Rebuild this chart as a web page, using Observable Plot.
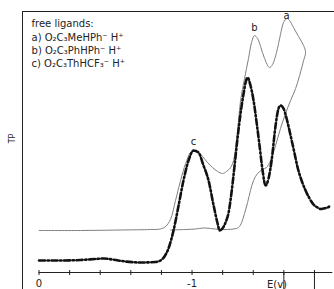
<!DOCTYPE html>
<html>
<head>
<meta charset="utf-8">
<script src="https://cdn.jsdelivr.net/npm/d3@7"></script>
<script src="https://cdn.jsdelivr.net/npm/@observablehq/plot@0.6"></script>
<style>
  html, body { margin: 0; padding: 0; background: #fff; }
</style>
</head>
<body>
<div id="chart"></div>
<script>
// ---- data (E in volts, TP in arbitrary units) ----
const blackE = [0, -0.141, -0.271, -0.369, -0.422, -0.480, -0.565, -0.663, -0.761, -0.794,
  -0.820, -0.846, -0.879, -0.912, -0.944, -0.977, -1.010, -1.042, -1.075, -1.108,
  -1.141, -1.167, -1.180, -1.199, -1.219, -1.239, -1.258, -1.278, -1.297, -1.317,
  -1.337, -1.350, -1.363, -1.382, -1.402, -1.422, -1.441, -1.461, -1.480, -1.500,
  -1.520, -1.546, -1.565, -1.578, -1.598, -1.618, -1.644, -1.670, -1.690, -1.716,
  -1.742, -1.768, -1.794, -1.820, -1.840, -1.859, -1.886, -1.905];
const blackTP = [1.2, 1.2, 1.25, 1.35, 1.4, 1.3, 1.1, 1.0, 1.05, 1.2,
  1.6, 2.4, 4.2, 6.7, 9.2, 11.2, 12.2, 12.0, 10.7, 9.2,
  6.7, 4.9, 4.2, 4.4, 5.0, 6.0, 8.0, 10.7, 13.4, 15.9,
  17.9, 19.0, 19.5, 18.7, 17.2, 15.0, 12.7, 10.2, 8.7, 9.4,
  11.2, 14.7, 16.4, 16.7, 16.4, 15.4, 13.7, 11.9, 10.5, 9.2,
  8.2, 7.4, 6.8, 6.5, 6.35, 6.4, 6.5, 6.7];

const grayE = [0, -0.271, -0.533, -0.729, -0.794, -0.827, -0.859, -0.892, -0.925, -0.958,
  -0.990, -1.010, -1.036, -1.069, -1.101, -1.134, -1.167, -1.199, -1.225, -1.252,
  -1.271, -1.291, -1.304, -1.317, -1.343, -1.369, -1.389, -1.408, -1.428, -1.448,
  -1.474, -1.506, -1.526, -1.552, -1.578, -1.598, -1.618, -1.637, -1.663, -1.696,
  -1.729, -1.742, -1.729, -1.703, -1.677, -1.644, -1.611, -1.578, -1.546, -1.513,
  -1.487, -1.461, -1.428, -1.402, -1.382, -1.363, -1.343, -1.324, -1.304, -1.271,
  -1.186, -1.121, -1.075, -1.023, -0.958, -0.859];
const grayTP = [4.2, 4.2, 4.25, 4.3, 4.35, 4.6, 5.3, 7.2, 9.2, 10.9,
  12.0, 12.2, 12.1, 11.6, 11.0, 10.5, 10.1, 9.9, 10.1, 10.5,
  11.2, 13.2, 15.2, 17.2, 19.4, 21.4, 23.0, 23.7, 23.4, 22.6,
  21.4, 20.5, 20.8, 22.0, 23.8, 25.0, 25.4, 25.2, 24.5, 23.6,
  22.7, 22.0, 21.2, 19.7, 18.4, 17.2, 15.9, 14.4, 12.7, 11.2,
  10.5, 10.3, 9.9, 9.2, 8.2, 7.0, 5.9, 5.0, 4.5, 4.35,
  4.3, 4.4, 4.45, 4.35, 4.3, 4.25];

const legendLines = ["free ligands:", "a) O₂C₃MeHPh⁻ H⁺", "b) O₂C₃PhHPh⁻ H⁺", "c) O₂C₃ThHCF₃⁻ H⁺"];
const legendTP = [24.9, 23.5, 22.2, 20.9];
const peakLabels = ["c", "b", "a"];
const peakE = [-1.010, -1.408, -1.618];
const peakTP = [13.1, 24.5, 25.7];
const minorTicks = [0, -0.2, -0.4, -0.6, -0.8, -1.0, -1.2, -1.4, -1.6, -1.8];
const longTicks = [-1.6, -1.8];
const tickLabels = [{E: 0, label: "0"}, {E: -1, label: "-1"}];

// ---- build ----
const black = blackE.map((e, i) => ({E: e, TP: blackTP[i]}));
const gray = grayE.map((e, i) => ({E: e, TP: grayTP[i]}));
const legend = legendLines.map((t, i) => ({t, TP: legendTP[i]}));
const peaks = peakLabels.map((t, i) => ({t, E: peakE[i], TP: peakTP[i]}));

const xLeft = 0.108, xRight = -1.931, yBottom = -1.7, yTop = 26.1;
const ink = "#222";

const chart = Plot.plot({
  width: 334,
  height: 289,
  marginLeft: 22,
  marginRight: 0,
  marginTop: 11,
  marginBottom: 17,
  x: {domain: [xLeft, xRight], axis: null},
  y: {domain: [0, yTop], axis: null},
  style: {background: "#fff", fontFamily: "DejaVu Sans, sans-serif", color: ink},
  marks: [
    // frame
    Plot.ruleX([xLeft], {y1: yBottom, y2: yTop, stroke: ink, strokeWidth: 1}),
    Plot.ruleY([yTop], {x1: xLeft, x2: xRight, stroke: ink, strokeWidth: 1}),
    // x axis
    Plot.ruleY([0], {x1: 0, x2: -1.92, stroke: ink, strokeWidth: 1}),
    Plot.ruleX(minorTicks, {x: d => d, y1: -0.3, y2: 0.2, stroke: ink, strokeWidth: 1}),
    Plot.ruleX(longTicks, {x: d => d, y1: yBottom, y2: 0, stroke: ink, strokeWidth: 1}),
    Plot.text(tickLabels, {x: "E", y: -1.1, text: "label", fontSize: 10, fill: ink}),
    Plot.text(["E(v)"], {x: -1.555, y: -1.2, text: d => d, fontSize: 10, fill: ink}),
    Plot.text(["TP"], {x: 0.173, y: 13.4, text: d => d, rotate: -90, fontSize: 8, fill: ink}),
    // curves
    Plot.line(gray, {x: "E", y: "TP", stroke: "#808080", strokeWidth: 1, curve: "catmull-rom"}),
    Plot.line(black, {x: "E", y: "TP", stroke: "#111", strokeWidth: 2.6, curve: "monotone-x",
      strokeDasharray: "6,2.5,1.5,2.5"}),
    // labels
    Plot.text(peaks, {x: "E", y: "TP", text: "t", fontSize: 10, fill: ink}),
    Plot.text(legend, {x: 0.049, y: "TP", text: "t", textAnchor: "start", fontSize: 10, fill: ink})
  ]
});
document.getElementById("chart").appendChild(chart);
</script>
</body>
</html>
